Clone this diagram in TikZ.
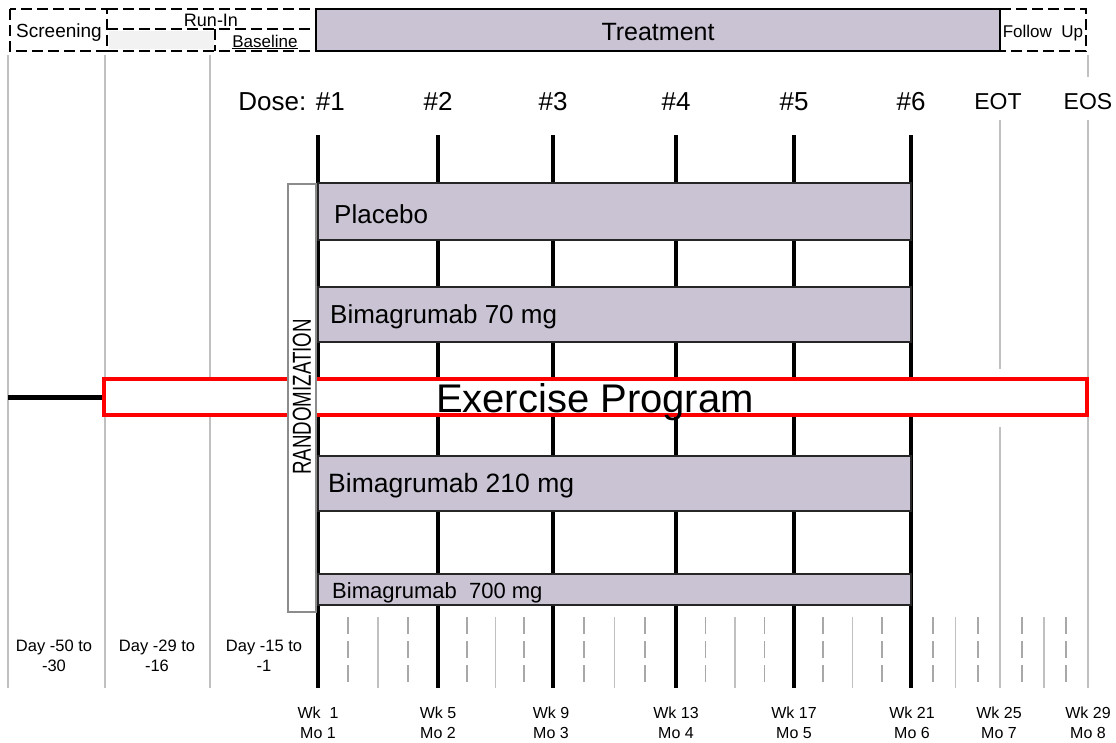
\documentclass[tikz,border=0pt]{standalone}
\usepackage{fontspec}
\setmainfont{Liberation Sans}
\usepackage{graphicx}
\usepackage{tikz}
\usetikzlibrary{positioning}
\definecolor{armfill}{HTML}{C9C3D3}
\definecolor{gridgray}{HTML}{C0C0C0}
\definecolor{tickgray}{HTML}{A8A8A8}
\definecolor{runfill}{HTML}{F2F2F2}
\definecolor{randgray}{HTML}{8C8C8C}
\newcommand{\fsz}[2]{\fontsize{#1}{#2}\selectfont}

\begin{document}
\begin{tikzpicture}[
    x=1pt, y=-1pt,
    nosep/.style={inner sep=0},
    phasebox/.style={draw=black, line width=2.4pt, dash pattern=on 11pt off 5pt},
    armbar/.style={draw=black!85, line width=1.8pt, fill=armfill},
    doseline/.style={draw=black, line width=4.5pt},
    gridline/.style={draw=gridgray, line width=1.8pt},
    weekdash/.style={draw=tickgray, line width=1.8pt, dash pattern=on 17pt off 7pt},
    weekline/.style={draw=gridgray, line width=1.6pt},
    exbox/.style={draw=red, line width=4pt, fill=white, minimum width=983pt, minimum height=36pt},
    armtext/.style={nosep, anchor=base west, font=\fsz{26}{30}},
    dosetext/.style={nosep, anchor=base, font=\fsz{26}{30}},
    timetext/.style={nosep, anchor=base, font=\fsz{16}{20}}
  ]
\useasboundingbox (0,0) rectangle (1116,742);

% phases
\path[fill=runfill] (109,31) rectangle (214,49);
\path[phasebox] (10,9) rectangle (107,51);
\path[phasebox] (107,9) -- (316,9) (107,29) -- (316,29) (107,51) -- (316,51) (215,29) -- (215,51);
\path[draw=black, line width=2pt, fill=armfill] (316,9) rectangle (1000,51);
\path[phasebox] (1000,9) -- (1086,9) -- (1086,51) -- (1000,51);

\node[dosetext, font=\fsz{19}{22}] (screening) at (59,37) {Screening};
\node[dosetext, font=\fsz{18}{22}] (runin) at (211,26) {Run-In};
\node[dosetext, font=\fsz{17}{20}] (baseline) at (265,47) {\underline{Baseline}};
\node[dosetext, font=\fsz{25}{30}] (treatment) at (658,40) {Treatment};
\node[dosetext, font=\fsz{17}{20}] (followup) at (1043,37) {Follow~~Up};

% time grid
\foreach \x in {8,105,210}
  \path[gridline] (\x,55) -- (\x,688);
\path[gridline] (1000,120) -- (1000,369) (1000,427) -- (1000,688);
\path[gridline] (1088,55) -- (1088,77) (1088,120) -- (1088,688);

\foreach \x in {318,438,553,676,794,911}
  \path[doseline] (\x,135) -- (\x,688);

\foreach \a/\b in {318/438,438/553,553/676,676/794,794/911,911/1000,1000/1088}{
  \pgfmathsetmacro{\q}{\a+0.25*(\b-\a)}
  \pgfmathsetmacro{\m}{\a+0.5*(\b-\a)}
  \pgfmathsetmacro{\r}{\a+0.75*(\b-\a)}
  \path[weekdash] (\q,617) -- (\q,688);
  \path[weekline] (\m,617) -- (\m,688);
  \path[weekdash] (\r,617) -- (\r,688);
}

% arms
\path[armbar] (318,183) rectangle (911,240);
\path[armbar] (318,287) rectangle (911,342);
\path[armbar] (318,456) rectangle (911,511);
\path[armbar] (318,574) rectangle (911,605);

\node[armtext] (placebo) at (334,223) {Placebo};
\node[armtext] (arm70) at (330,323) {Bimagrumab 70 mg};
\node[armtext, font=\fsz{26.5}{30}] (arm210) at (328,492) {Bimagrumab 210 mg};
\node[armtext, font=\fsz{22}{26}] (arm700) at (332,598) {Bimagrumab~~700 mg};

% exercise
\node[exbox] (exercise) at (595.5,397) {};
\coordinate (runstart) at (8,397);
\path[draw=black, line width=5pt] (runstart) -- (exercise.west);
\node[dosetext, font=\fsz{40}{44}] (extext) at (595,412) {Exercise Program};

% randomization
\path[draw=randgray, line width=1.5pt, fill=white] (288,184) rectangle (316,612);
\node[nosep, rotate=90, font=\fsz{26}{30}] (random) at (302,397) {\scalebox{0.72}[1]{RANDOMIZATION}};

% dose labels
\node[dosetext, anchor=base east] (dose1) at (345,110) {Dose: \#1};
\foreach \x/\n in {438/2,553/3,676/4,794/5,911/6}
  \node[dosetext] (dose\n) at (\x,110) {\#\n};
\node[dosetext, font=\fsz{23}{28}] (eot) at (998,109) {EOT};
\node[dosetext, font=\fsz{23}{28}] (eos) at (1088,109) {EOS};

% time labels
\node[timetext, font=\fsz{16.5}{20}] (day50) at (54,651) {Day -50 to};
\node[timetext, font=\fsz{16.5}{20}] (day30) at (54,671) {-30};
\node[timetext, font=\fsz{16.5}{20}] (day29) at (157,651) {Day -29 to};
\node[timetext, font=\fsz{16.5}{20}] (day16) at (157,671) {-16};
\node[timetext, font=\fsz{16.5}{20}] (day15) at (264,651) {Day -15 to};
\node[timetext, font=\fsz{16.5}{20}] (day1) at (264,671) {-1};

\foreach \x/\w/\m in {318/{~1}/1,438/5/2,551/9/3,676/13/4,794/17/5,912/21/6,999/25/7,1088/29/8}{
  \node[timetext] (wk\m) at (\x,718) {Wk~\w};
  \node[timetext] (mo\m) at (\x,738) {Mo~\m};
}

\end{tikzpicture}
\end{document}
